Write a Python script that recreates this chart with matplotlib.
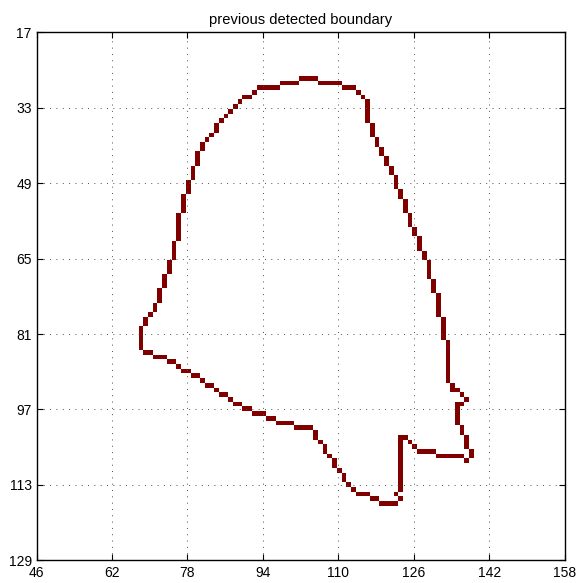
import numpy as np
import matplotlib
matplotlib.use("Agg")
import matplotlib.pyplot as plt
from matplotlib.colors import ListedColormap

plt.rcParams['font.family'] = ['Liberation Sans', 'DejaVu Sans']

#Image grid (pixel centres on integer coords)
X_TICKS = [46, 62, 78, 94, 110, 126, 142, 158]
Y_TICKS = [17, 33, 49, 65, 81, 97, 113, 129]
TITLE = "previous detected boundary"

#Boundary pixels as blocks: (col_from, col_to, row_from, row_to)
top_runs = [(102, 105, 27, 27), (98, 101, 28, 28), (106, 110, 28, 28),
            (93, 97, 29, 29), (111, 113, 29, 29)]

left_runs = [(92, 92, 30, 30), (90, 91, 31, 31), (89, 89, 32, 32), (88, 88, 33, 33),
             (87, 87, 34, 34), (86, 86, 35, 35), (85, 85, 36, 36), (84, 84, 37, 38),
             (83, 83, 39, 39), (82, 82, 40, 40), (81, 81, 41, 42), (80, 80, 43, 45),
             (79, 79, 46, 48), (78, 78, 49, 51), (77, 77, 52, 55), (76, 76, 56, 61),
             (75, 75, 62, 65), (74, 74, 66, 68), (73, 73, 69, 71), (72, 72, 72, 74),
             (71, 71, 75, 76), (70, 70, 77, 77), (69, 69, 78, 79), (68, 68, 80, 84)]

right_runs = [(114, 114, 30, 30), (115, 115, 31, 31), (116, 116, 32, 36), (117, 117, 37, 39),
              (118, 118, 40, 41), (119, 119, 42, 43), (120, 120, 44, 45), (121, 121, 46, 47),
              (122, 122, 48, 50), (123, 123, 51, 52), (124, 124, 53, 55), (125, 125, 56, 58),
              (126, 126, 59, 60), (127, 127, 61, 63), (128, 128, 64, 65), (129, 129, 66, 69),
              (130, 130, 70, 72), (131, 131, 73, 77), (132, 132, 78, 82), (133, 133, 83, 91),
              (134, 134, 92, 93), (135, 135, 93, 93), (136, 136, 94, 94), (137, 137, 95, 95),
              (135, 136, 96, 96), (135, 135, 97, 100), (136, 136, 101, 102), (137, 137, 103, 105),
              (138, 138, 106, 107), (137, 137, 108, 108)]

bottom_runs = [(69, 70, 85, 85), (71, 73, 86, 86), (74, 75, 87, 87), (76, 76, 88, 88),
               (77, 78, 89, 89), (79, 80, 90, 90), (81, 81, 91, 91), (82, 83, 92, 92),
               (84, 84, 93, 93), (85, 86, 94, 94), (87, 87, 95, 95), (88, 89, 96, 96),
               (90, 91, 97, 97), (92, 94, 98, 98), (95, 96, 99, 99), (97, 100, 100, 100),
               (101, 104, 101, 101), (105, 105, 102, 103), (106, 106, 104, 104),
               (107, 107, 105, 106), (108, 108, 107, 107), (109, 109, 108, 109),
               (110, 110, 110, 110), (111, 111, 111, 112), (112, 112, 113, 113),
               (113, 113, 114, 114), (114, 116, 115, 115), (117, 118, 116, 116),
               (119, 122, 117, 117)]

notch_runs = [(122, 122, 115, 115), (123, 123, 116, 116), (123, 123, 103, 114),
              (124, 124, 103, 103), (125, 125, 104, 104), (126, 126, 105, 105),
              (127, 130, 106, 106), (131, 136, 107, 107)]

#Build mask
x0, x1 = X_TICKS[0], X_TICKS[-1]
y0, y1 = Y_TICKS[0], Y_TICKS[-1]
mask = np.zeros((y1 - y0 + 1, x1 - x0 + 1))
for c0, c1, r0, r1 in top_runs + left_runs + right_runs + bottom_runs + notch_runs:
    mask[r0 - y0:r1 - y0 + 1, c0 - x0:c1 - x0 + 1] = 1

fig = plt.figure(figsize=(5.77, 5.83), dpi=100)
ax = fig.add_axes([0.0633, 0.0389, 0.9154, 0.9057])

cmap = ListedColormap(['white', '#800000'])
ax.imshow(mask, cmap=cmap, vmin=0, vmax=1, interpolation='nearest',
          extent=[x0 - 0.5, x1 + 0.5, y1 + 0.5, y0 - 0.5], aspect='auto')

ax.set_xlim(x0, x1)
ax.set_ylim(y1, y0)
ax.set_xticks(X_TICKS)
ax.set_yticks(Y_TICKS)
ax.tick_params(direction='in', top=True, right=True, length=4, width=0.8,
               labelsize=10, colors='black')
ax.tick_params(axis='x', pad=4)
ax.tick_params(axis='y', pad=3.5)
ax.grid(True, color='0.3', linestyle=(0, (1, 5.5)), linewidth=0.7)
for sp in ax.spines.values():
    sp.set_linewidth(1.0)

ax.set_title(TITLE, fontsize=10.6, pad=6)

fig.savefig("out.png", dpi=100)
